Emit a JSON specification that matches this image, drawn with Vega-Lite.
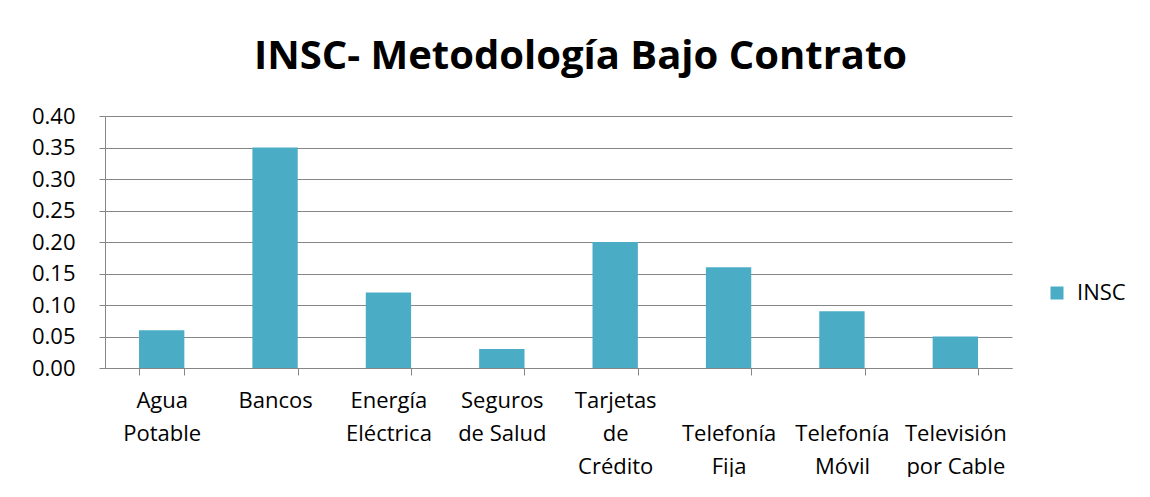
{
  "$schema": "https://vega.github.io/schema/vega-lite/v6.json",
  "width": 907,
  "height": 252,
  "padding": {"left": 31, "top": 37, "right": 0, "bottom": 0},
  "background": "white",
  "title": {
    "text": "INSC- Metodología Bajo Contrato",
    "font": "Open Sans",
    "fontSize": 40,
    "fontWeight": "bold",
    "color": "#000000",
    "anchor": "middle",
    "dx": 22,
    "offset": 28
  },
  "data": {
    "values": [
      {"categoria": "Agua Potable", "serie": "INSC", "valor": 0.06},
      {"categoria": "Bancos", "serie": "INSC", "valor": 0.35},
      {"categoria": "Energía Eléctrica", "serie": "INSC", "valor": 0.12},
      {"categoria": "Seguros de Salud", "serie": "INSC", "valor": 0.03},
      {"categoria": "Tarjetas de Crédito", "serie": "INSC", "valor": 0.20},
      {"categoria": "Telefonía Fija", "serie": "INSC", "valor": 0.16},
      {"categoria": "Telefonía Móvil", "serie": "INSC", "valor": 0.09},
      {"categoria": "Televisión por Cable", "serie": "INSC", "valor": 0.05}
    ]
  },
  "mark": {"type": "bar"},
  "encoding": {
    "x": {
      "field": "categoria",
      "type": "nominal",
      "sort": null,
      "scale": {"paddingInner": 0.6, "paddingOuter": 0.3},
      "axis": {
        "title": null,
        "labelAngle": 0,
        "labelFont": "Open Sans",
        "labelFontSize": 22,
        "labelColor": "#000000",
        "labelLineHeight": 33,
        "labelPadding": 15,
        "labelBaseline": "top",
        "tickBand": "extent",
        "tickSize": 7,
        "tickColor": "#868686",
        "domainColor": "#868686",
        "labelExpr": "datum.value == 'Agua Potable' ? ['Agua','Potable'] : datum.value == 'Energía Eléctrica' ? ['Energía','Eléctrica'] : datum.value == 'Seguros de Salud' ? ['Seguros','de Salud'] : datum.value == 'Tarjetas de Crédito' ? ['Tarjetas','de','Crédito'] : datum.value == 'Telefonía Fija' ? [' ','Telefonía','Fija'] : datum.value == 'Telefonía Móvil' ? [' ','Telefonía','Móvil'] : datum.value == 'Televisión por Cable' ? [' ','Televisión','por Cable'] : datum.value"
      }
    },
    "y": {
      "field": "valor",
      "type": "quantitative",
      "scale": {"domain": [0, 0.4], "nice": false},
      "axis": {
        "title": null,
        "values": [0, 0.05, 0.1, 0.15, 0.2, 0.25, 0.3, 0.35, 0.4],
        "format": ".2f",
        "labelFont": "Open Sans",
        "labelFontSize": 22,
        "labelColor": "#000000",
        "labelPadding": 24,
        "tickSize": 6,
        "tickColor": "#868686",
        "domainColor": "#868686",
        "gridColor": "#868686",
        "gridOpacity": 1
      }
    },
    "color": {
      "field": "serie",
      "type": "nominal",
      "scale": {"range": ["#4BACC6"]},
      "legend": {
        "title": null,
        "orient": "none",
        "legendX": 941,
        "legendY": 166,
        "symbolType": "square",
        "symbolSize": 169,
        "symbolStrokeWidth": 0,
        "labelFont": "Open Sans",
        "labelFontSize": 22,
        "labelColor": "#000000",
        "labelOffset": 9
      }
    }
  },
  "config": {
    "view": {"stroke": null},
    "axis": {"domainWidth": 1, "gridWidth": 1}
  }
}
